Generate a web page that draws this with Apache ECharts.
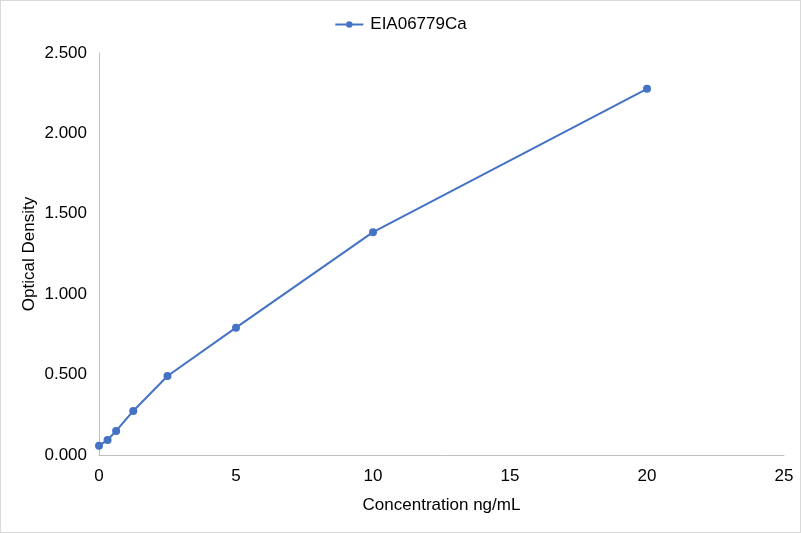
<!DOCTYPE html>
<html>
<head>
<meta charset="utf-8">
<script src="https://cdn.jsdelivr.net/npm/echarts@6/dist/echarts.min.js"></script>
<style>
  html, body { margin: 0; padding: 0; background: #fff; }
  #chart { width: 801px; height: 533px; box-sizing: border-box; border: 1px solid #d9d9d9; }
</style>
</head>
<body>
<div id="chart"></div>
<script>
// standard curve values
const seriesName = "EIA06779Ca";
const concentration = [0, 0.3125, 0.625, 1.25, 2.5, 5, 10, 20];
const opticalDensity = [0.058, 0.093, 0.150, 0.274, 0.491, 0.792, 1.386, 2.277];

document.addEventListener("DOMContentLoaded", function () {
  let chart = echarts.init(document.getElementById("chart"), null, { renderer: "canvas" });
  let points = concentration.map((c, i) => [c, opticalDensity[i]]);
  let labelFont = { fontFamily: "Liberation Sans", fontSize: 17, color: "#000" };

  let option = {
    animation: false,
    textStyle: { fontFamily: "Liberation Sans" },
    legend: {
      top: 10,
      left: "center",
      itemWidth: 28,
      itemHeight: 8,
      itemGap: 10,
      textStyle: Object.assign({ padding: [0, 0, 0, 2] }, labelFont),
      data: [seriesName],
    },
    grid: {
      left: 98,
      right: 16,
      top: 52,
      bottom: 77,
      containLabel: false,
    },
    xAxis: {
      type: "value",
      min: 0,
      max: 25,
      interval: 5,
      name: "Concentration ng/mL",
      nameLocation: "middle",
      nameGap: 42,
      nameMoveOverlap: false,
      nameTextStyle: labelFont,
      axisLine: { show: true, lineStyle: { color: "#bfbfbf", width: 1 } },
      axisTick: { show: false },
      splitLine: { show: false },
      axisLabel: Object.assign({ margin: 13 }, labelFont),
    },
    yAxis: {
      type: "value",
      min: 0,
      max: 2.5,
      interval: 0.5,
      name: "Optical Density",
      nameLocation: "middle",
      nameGap: 61,
      nameMoveOverlap: false,
      nameTextStyle: labelFont,
      axisLine: { show: true, lineStyle: { color: "#bfbfbf", width: 1 } },
      axisTick: { show: false },
      splitLine: { show: false },
      axisLabel: Object.assign(
        {
          margin: 12,
          formatter: function (v) {
            return v.toFixed(3);
          },
        },
        labelFont
      ),
    },
    series: [
      {
        name: seriesName,
        type: "line",
        data: points,
        symbol: "circle",
        symbolSize: 8,
        lineStyle: { width: 2, color: "#4472c4" },
        itemStyle: { color: "#4472c4" },
      },
    ],
  };
  option && chart.setOption(option);
});
</script>
</body>
</html>
